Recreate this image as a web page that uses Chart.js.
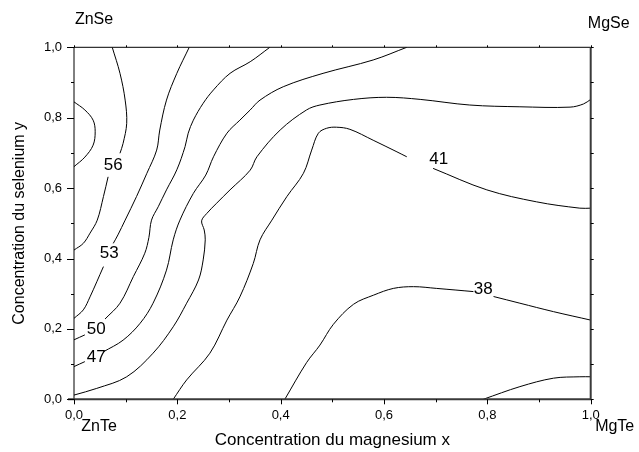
<!DOCTYPE html>
<html>
<head>
<meta charset="utf-8">
<script src="https://cdn.jsdelivr.net/npm/chart.js@4.4.1/dist/chart.umd.min.js"></script>
<style>
    html, body { margin: 0; padding: 0; background: #fff; }
</style>
</head>
<body>
<canvas id="myContourChart" width="639" height="452"></canvas>
<script>
// contour lines, [x, y] in composition units
const iso59 = [[0, 0.845], [0.021, 0.822], [0.037, 0.793], [0.041, 0.760], [0.037, 0.722], [0.021, 0.688], [0, 0.661]];

const iso56Upper = [[0.074, 1.0], [0.089, 0.926], [0.099, 0.850], [0.102, 0.784], [0.095, 0.727], [0.089, 0.699]];
const iso56Lower = [[0.066, 0.632], [0.057, 0.576], [0.045, 0.509], [0.031, 0.472], [0.018, 0.443], [0, 0.424]];

const iso53Upper = [[0.223, 1.0], [0.199, 0.926], [0.179, 0.850], [0.166, 0.765], [0.160, 0.708], [0.141, 0.642], [0.121, 0.576], [0.099, 0.509], [0.085, 0.467], [0.076, 0.443]];
const iso53Lower = [[0.057, 0.377], [0.031, 0.291], [0.018, 0.254], [0, 0.230]];

const iso50Upper = [[0.379, 1.0], [0.341, 0.959], [0.302, 0.926], [0.270, 0.879], [0.250, 0.841], [0.231, 0.793], [0.221, 0.756], [0.215, 0.718], [0.199, 0.652], [0.179, 0.595], [0.163, 0.547], [0.150, 0.509], [0.145, 0.460], [0.137, 0.415], [0.115, 0.349], [0.089, 0.273], [0.060, 0.228]];
const iso50Lower = [[0, 0.169], [0.021, 0.183]];

const iso47Upper = [[0.644, 1.0], [0.579, 0.964], [0.482, 0.926], [0.405, 0.888], [0.360, 0.850], [0.341, 0.822], [0.321, 0.793], [0.296, 0.756], [0.270, 0.689], [0.255, 0.637], [0.231, 0.585], [0.205, 0.509], [0.192, 0.453], [0.179, 0.367], [0.153, 0.273], [0.128, 0.216], [0.095, 0.168], [0.057, 0.135]];
const iso47Lower = [[0, 0.093], [0.021, 0.107]];

const iso44 = [[1.0, 0.852], [0.986, 0.839], [0.960, 0.830], [0.863, 0.831], [0.766, 0.836], [0.670, 0.852], [0.605, 0.858], [0.541, 0.852], [0.476, 0.836], [0.450, 0.822], [0.399, 0.765], [0.354, 0.689], [0.341, 0.651], [0.302, 0.595], [0.276, 0.557], [0.257, 0.528], [0.247, 0.507], [0.252, 0.481], [0.254, 0.453], [0.250, 0.396], [0.241, 0.339], [0.218, 0.273], [0.192, 0.206], [0.153, 0.131], [0.102, 0.064], [0.044, 0.031], [0, 0.012]];

const iso41Left = [[0.192, 0], [0.218, 0.055], [0.263, 0.131], [0.296, 0.225], [0.321, 0.291], [0.347, 0.386], [0.360, 0.453], [0.383, 0.509], [0.412, 0.576], [0.444, 0.642], [0.460, 0.708], [0.473, 0.756], [0.489, 0.770], [0.508, 0.773], [0.534, 0.767], [0.579, 0.736], [0.625, 0.703], [0.644, 0.689]];
const iso41Right = [[0.695, 0.656], [0.799, 0.595], [0.895, 0.561], [0.979, 0.543], [1.0, 0.543]];

const iso38Left = [[0.408, 0], [0.450, 0.104], [0.476, 0.154], [0.502, 0.213], [0.541, 0.270], [0.580, 0.296], [0.618, 0.315], [0.657, 0.320], [0.702, 0.315], [0.773, 0.306]];
const iso38Right = [[0.812, 0.292], [0.863, 0.273], [0.928, 0.249], [1.0, 0.225]];

const iso35 = [[0.792, 0], [0.863, 0.036], [0.928, 0.060], [0.979, 0.064], [1.0, 0.064]];

// contour level labels
const levelLabels = ['56', '53', '50', '47', '41', '38'];
const levelLabelX = [0.076, 0.068, 0.043, 0.043, 0.706, 0.792];
const levelLabelY = [0.666, 0.416, 0.200, 0.119, 0.682, 0.313];

// axes
const axisTicks = [0, 0.1, 0.2, 0.3, 0.4, 0.5, 0.6, 0.7, 0.8, 0.9, 1.0];
const xTickLabels = ['0,0', '0,2', '0,4', '0,6', '0,8', '1,0'];
const yTickLabels = ['0,0', '0,2', '0,4', '0,6', '0,8', '1,0'];
const cornerNames = ['ZnSe', 'MgSe', 'ZnTe', 'MgTe'];

const FONT = 'Liberation Sans, Arial, sans-serif';

function toPoints(arr) {
    return arr.map(p => ({ x: p[0], y: p[1] }));
}

function contourSet(arr) {
    return {
        data: toPoints(arr),
        showLine: true,
        borderColor: '#000',
        borderWidth: 1,
        pointRadius: 0,
        pointHoverRadius: 0,
        tension: 0.35,
        fill: false
    };
}

//frame, ticks and all free text
const decorations = {
    id: 'decorations',
    afterDatasetsDraw(chart) {
        const { ctx, chartArea: a, scales: { x, y } } = chart;
        ctx.save();

        ctx.lineWidth = 1;
        ctx.strokeStyle = '#000';
        ctx.beginPath();
        ctx.moveTo(a.left, a.bottom);
        ctx.lineTo(a.left, a.top);
        ctx.lineTo(a.right, a.top);
        ctx.stroke();

        ctx.lineWidth = 2;
        ctx.strokeStyle = '#3a3a3a';
        ctx.beginPath();
        ctx.moveTo(a.left - 6, a.bottom);
        ctx.lineTo(a.right, a.bottom);
        ctx.lineTo(a.right, a.top);
        ctx.stroke();

        ctx.lineWidth = 1;
        ctx.strokeStyle = '#000';
        axisTicks.forEach((v, i) => {
            const major = i % 2 === 0;
            const px = Math.round(x.getPixelForValue(v)) + 0.5;
            const py = Math.round(y.getPixelForValue(v)) + 0.5;
            ctx.beginPath();
            // bottom
            ctx.moveTo(px, a.bottom);
            ctx.lineTo(px, a.bottom + (major ? 5 : 3));
            // left
            ctx.moveTo(a.left, py);
            ctx.lineTo(a.left - (major ? 7 : 3), py);
            // top and right
            ctx.moveTo(px, a.top);
            ctx.lineTo(px, a.top - 2);
            ctx.moveTo(a.right, py);
            ctx.lineTo(a.right + 3, py);
            ctx.stroke();
        });

        ctx.fillStyle = '#000';
        ctx.textAlign = 'center';
        ctx.textBaseline = 'middle';
        ctx.font = '17px ' + FONT;
        levelLabels.forEach((t, i) => {
            ctx.fillText(t, x.getPixelForValue(levelLabelX[i]), y.getPixelForValue(levelLabelY[i]));
        });

        ctx.font = '16px ' + FONT;
        ctx.fillText(cornerNames[0], a.left + 20, a.top - 28);
        ctx.fillText(cornerNames[1], a.right + 18, a.top - 24);
        ctx.fillText(cornerNames[2], a.left + 25, a.bottom + 27);
        ctx.fillText(cornerNames[3], a.right + 24, a.bottom + 27);

        ctx.restore();
    }
};

const contours = [iso59, iso56Upper, iso56Lower, iso53Upper, iso53Lower, iso50Upper, iso50Lower,
    iso47Upper, iso47Lower, iso44, iso41Left, iso41Right, iso38Left, iso38Right, iso35];

const config = {
    type: 'scatter',
    data: { datasets: contours.map(contourSet) },
    options: {
        responsive: false,
        animation: false,
        events: [],
        layout: { padding: { top: 47.3, right: 48.3, left: 0, bottom: 0 } },
        plugins: {
            legend: { display: false },
            tooltip: { enabled: false }
        },
        scales: {
            x: {
                type: 'linear',
                min: 0,
                max: 1,
                afterFit: s => { s.height = 52.7; },
                grid: { display: false, drawTicks: false },
                border: { display: false },
                ticks: {
                    stepSize: 0.2,
                    padding: 8,
                    color: '#000',
                    font: { family: FONT, size: 13 },
                    callback: (v, i) => xTickLabels[i]
                },
                title: {
                    display: true,
                    text: 'Concentration du magnesium x',
                    color: '#000',
                    font: { family: FONT, size: 17 },
                    padding: { top: 0, bottom: 1 }
                }
            },
            y: {
                type: 'linear',
                min: 0,
                max: 1,
                afterFit: s => { s.width = 74; },
                grid: { display: false, drawTicks: false },
                border: { display: false },
                ticks: {
                    stepSize: 0.2,
                    padding: 12,
                    color: '#000',
                    font: { family: FONT, size: 13 },
                    callback: (v, i) => yTickLabels[i]
                },
                title: {
                    display: true,
                    text: 'Concentration du selenium y',
                    color: '#000',
                    font: { family: FONT, size: 16 },
                    padding: { top: 10, bottom: 0 }
                }
            }
        }
    },
    plugins: [decorations]
};

new Chart(document.getElementById('myContourChart'), config);
</script>
</body>
</html>
